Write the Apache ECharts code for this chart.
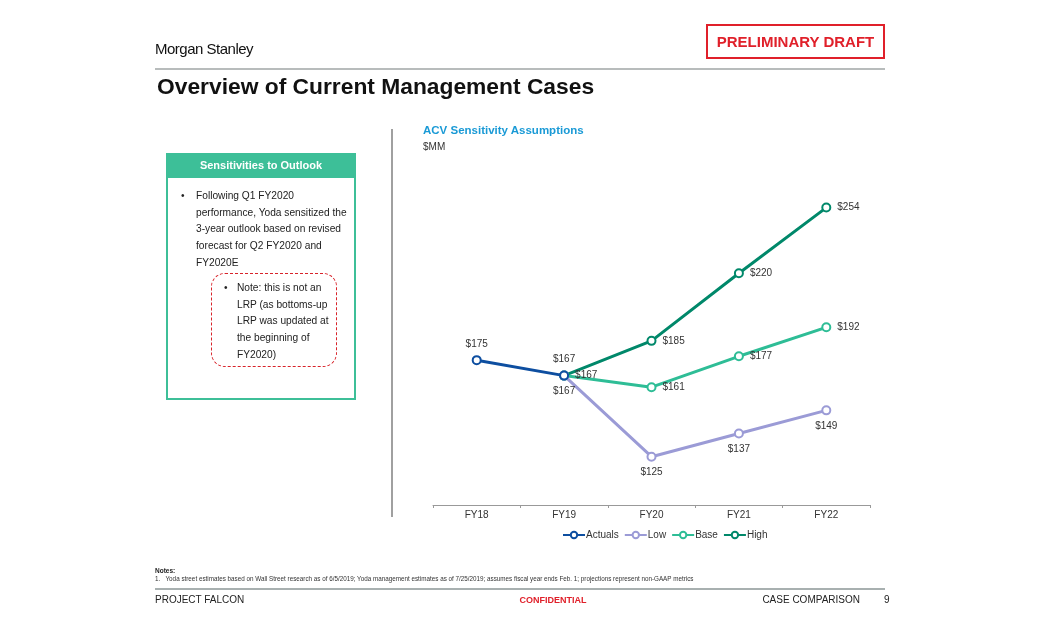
<!DOCTYPE html>
<html><head><meta charset="utf-8">
<script src="https://cdn.jsdelivr.net/npm/echarts@6/dist/echarts.min.js"></script>
<style>
html,body{margin:0;padding:0;background:#fff;width:1046px;height:635px;overflow:hidden;font-family:Arial,"Liberation Sans",sans-serif;}
.abs{position:absolute;white-space:nowrap;}
#chart{position:absolute;left:0;top:0;width:1046px;height:635px;}
</style></head><body>
<div id="chart"></div>
<div class="abs" style="left:155px;top:40px;font-size:15px;color:#111;letter-spacing:-0.5px;">Morgan Stanley</div>
<div class="abs" style="left:706px;top:24px;width:175px;height:31px;border:2px solid #e0202a;color:#e0202a;font-weight:bold;font-size:15px;line-height:31px;text-align:center;">PRELIMINARY DRAFT</div>
<div class="abs" style="left:155px;top:68px;width:730px;height:2px;background:#b8bcbc;"></div>
<div class="abs" style="left:157px;top:73px;font-size:22.8px;font-weight:bold;color:#111;">Overview of Current Management Cases</div>
<div class="abs" style="left:391px;top:129px;width:2px;height:388px;background:#a0a0a0;"></div>
<div class="abs" style="left:423px;top:124px;font-size:11.5px;font-weight:bold;color:#1a9ad6;">ACV Sensitivity Assumptions</div>
<div class="abs" style="left:423px;top:141px;font-size:10px;color:#333;">$MM</div>
<div class="abs" style="left:166px;top:153px;width:186px;height:243px;border:2px solid #3dbf98;"></div>
<div class="abs" style="left:166px;top:153px;width:190px;height:25px;background:#3dbf98;color:#fff;font-weight:bold;font-size:11px;line-height:25px;text-align:center;">Sensitivities to Outlook</div>
<div class="abs" style="left:181px;top:188px;font-size:10.2px;color:#222;line-height:16.7px;">•</div>
<div class="abs" style="left:196px;top:188px;font-size:10.2px;color:#222;line-height:16.7px;">Following Q1 FY2020<br>performance, Yoda sensitized the<br>3-year outlook based on revised<br>forecast for Q2 FY2020 and<br>FY2020E</div>
<div class="abs" style="left:211px;top:273px;width:124px;height:92px;border:1.5px dashed #d8232a;border-radius:14px;"></div>
<div class="abs" style="left:224px;top:280px;font-size:10.2px;color:#222;line-height:16.7px;">•</div>
<div class="abs" style="left:237px;top:280px;font-size:10.2px;color:#222;line-height:16.7px;">Note: this is not an<br>LRP (as bottoms-up<br>LRP was updated at<br>the beginning of<br>FY2020)</div>
<div class="abs" style="left:155px;top:567px;font-size:6.5px;font-weight:bold;color:#222;">Notes:</div>
<div class="abs" style="left:155px;top:575px;font-size:6.3px;color:#333;">1.&nbsp;&nbsp;&nbsp;Yoda street estimates based on Wall Street research as of 6/5/2019; Yoda management estimates as of 7/25/2019; assumes fiscal year ends Feb. 1; projections represent non-GAAP metrics</div>
<div class="abs" style="left:155px;top:588px;width:730px;height:2px;background:#a8b0b0;"></div>
<div class="abs" style="left:155px;top:594px;font-size:10px;color:#222;">PROJECT FALCON</div>
<div class="abs" style="left:493px;top:595px;width:120px;text-align:center;font-size:9px;font-weight:bold;color:#e0202a;">CONFIDENTIAL</div>
<div class="abs" style="left:720px;top:594px;width:140px;text-align:right;font-size:10px;color:#222;">CASE COMPARISON</div>
<div class="abs" style="left:884px;top:594px;font-size:10px;color:#222;">9</div>
<script>
const categories = ['FY18','FY19','FY20','FY21','FY22'];
const actuals = [175, 167, null, null, null];
const low = [null, 167, 125, 137, 149];
const base = [null, 167, 161, 177, 192];
const high = [null, 167, 185, 220, 254];
const seriesNames = ['Actuals','Low','Base','High'];
const colors = ['#0d4ea0','#9b9bd6','#2ebd96','#00886a'];
const labelPos = ['top','bottom','right','right'];

const chart = echarts.init(document.getElementById('chart'));
const dataSets = [actuals, low, base, high];
const series = dataSets.map((d, i) => ({
  name: seriesNames[i],
  type: 'line',
  data: d.map((v, j) => {
    if (v == null) return null;
    if (i === 3 && j === 1) return { value: v, label: { show: false } };
    return v;
  }),
  z: i === 0 ? 10 : 5 - i,
  symbol: 'emptyCircle',
  symbolSize: 8,
  connectNulls: false,
  lineStyle: { width: 3, color: colors[i] },
  itemStyle: { color: colors[i], borderWidth: 2.5, borderColor: colors[i] },
  label: {
    show: true, position: labelPos[i], distance: 6,
    formatter: p => '$' + p.value,
    fontSize: 10, color: '#333', fontFamily: 'Arial'
  },
  emphasis: { disabled: true },
  animation: false
}));

chart.setOption({
  animation: false,
  grid: { left: 433, right: 176, top: 196, bottom: 130, containLabel: false },
  legend: {
    data: seriesNames, top: 525, left: 557,
    itemWidth: 22, itemHeight: 8, itemGap: 5,
    textStyle: { fontSize: 10, color: '#333', fontFamily: 'Arial', padding: [0,0,0,-4] }
  },
  xAxis: {
    type: 'category', data: categories, boundaryGap: true,
    axisLine: { lineStyle: { color: '#999', width: 1 } },
    axisTick: { show: true, length: 3, lineStyle: { color: '#999' } },
    axisLabel: { fontSize: 10, color: '#333', margin: 5, fontFamily: 'Arial' }
  },
  yAxis: {
    type: 'value', min: 100, max: 260, show: false,
    splitLine: { show: false }
  },
  series: series
});
</script>
</body></html>
